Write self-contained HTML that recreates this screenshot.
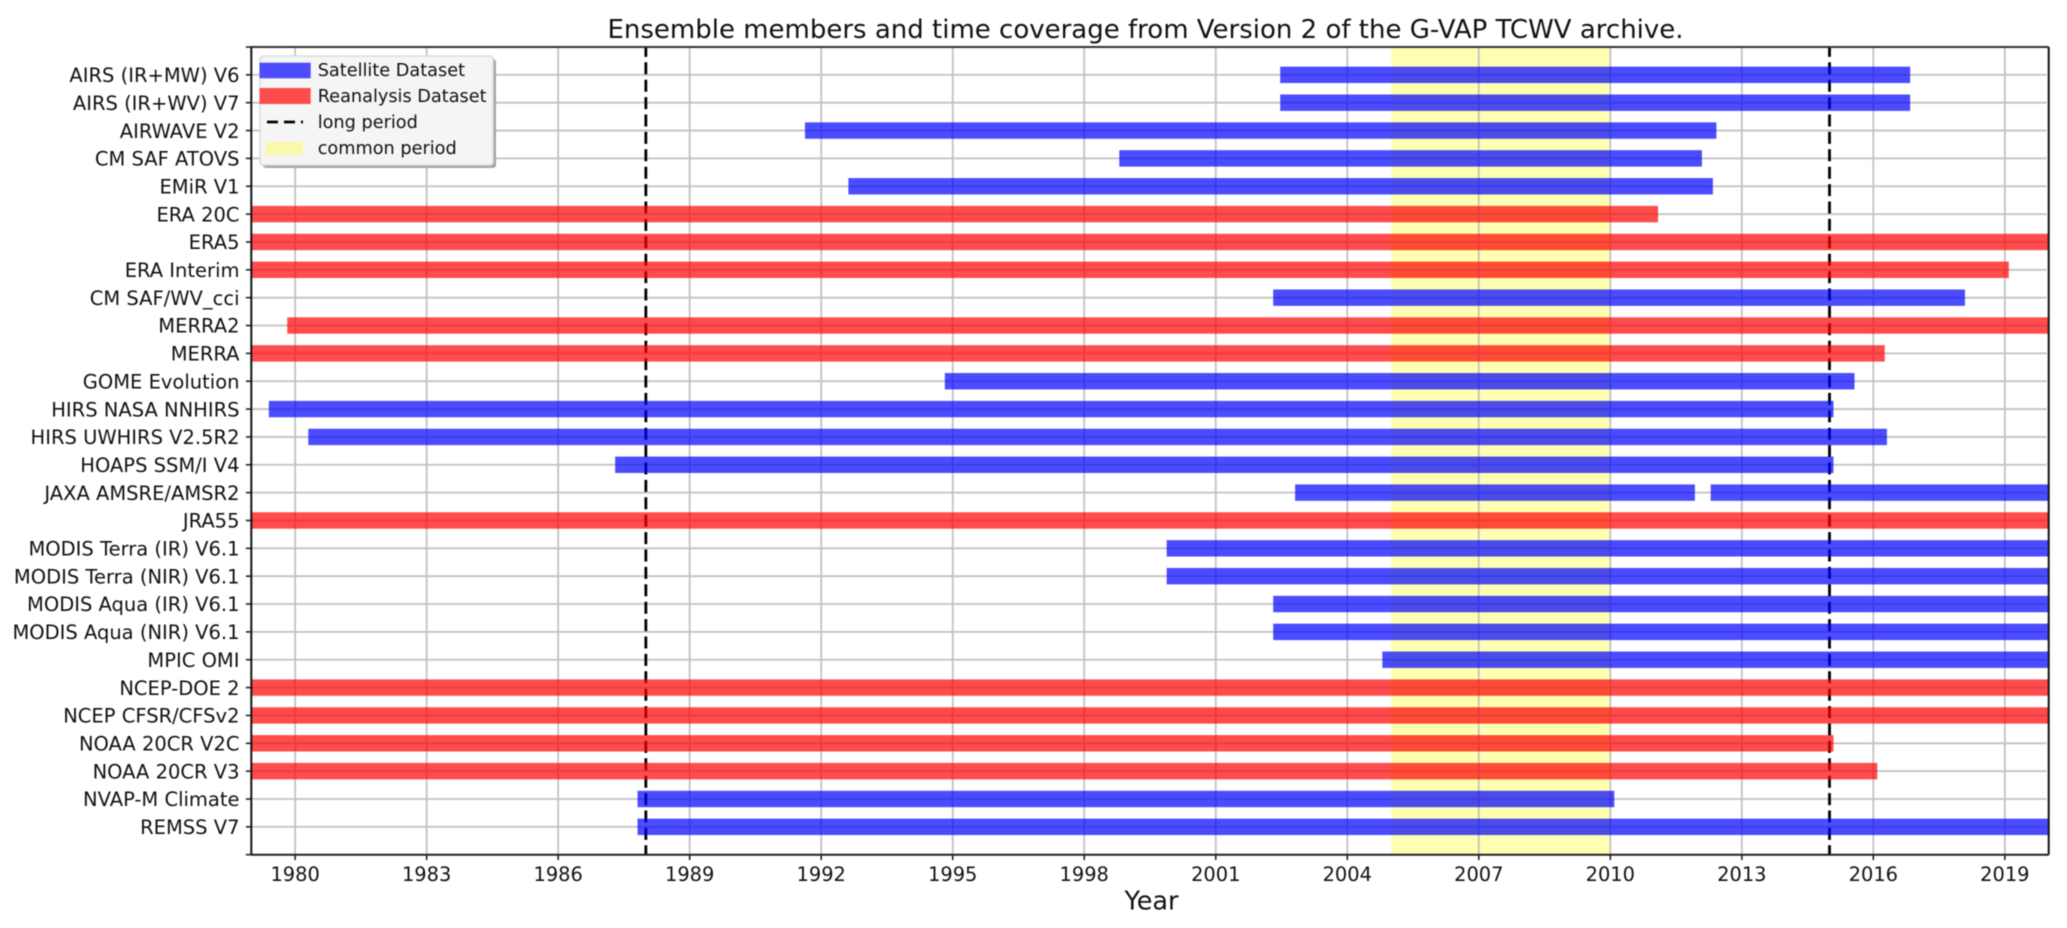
<!DOCTYPE html>
<html lang="en">
<head>
<meta charset="utf-8">
<title>G-VAP TCWV ensemble coverage</title>
<style>
html,body{margin:0;padding:0;background:#fff;width:2067px;height:928px;overflow:hidden}
svg{display:block;filter:blur(0.4px)}
text{font-family:"DejaVu Sans","Liberation Sans",sans-serif;fill:#111}
</style>
</head>
<body>
<svg id="chart" xmlns="http://www.w3.org/2000/svg" width="2067" height="928" viewBox="0 0 2067 928">
  <defs><clipPath id="plot-clip"><rect x="251.3" y="47" width="1797.4" height="807.7"/></clipPath></defs>
  <rect x="0" y="0" width="2067" height="928" fill="#fff"/>
  <g id="spans" clip-path="url(#plot-clip)"></g>
  <g id="grid"></g>
  <g id="vlines"></g>
  <g id="bars" clip-path="url(#plot-clip)"></g>
  <g id="axes"></g>
  <text x="1145.5" y="38" text-anchor="middle" font-size="26">Ensemble members and time coverage from Version 2 of the G-VAP TCWV archive.</text>
  <text x="1151.5" y="909.3" text-anchor="middle" font-size="25.5">Year</text>
  <g>
    <rect x="263" y="59" width="233" height="109" rx="3" fill="#a6a6a6"/>
    <rect x="260" y="56" width="233" height="109" rx="3" fill="#f5f5f5" stroke="#dcdcdc" stroke-width="1.5"/>
    <rect x="259.5" y="62.7" width="51.2" height="15.6" fill="#4d4dff"/>
    <rect x="259.5" y="88" width="51.2" height="16" fill="#ff4d4d"/>
    <line x1="267" y1="122" x2="303" y2="122" stroke="#000" stroke-width="2.7" stroke-dasharray="11 6"/>
    <rect x="266" y="141.7" width="37" height="13.5" fill="#fbf8ac"/>
    <text x="317.7" y="76" font-size="17.7">Satellite Dataset</text>
    <text x="317.7" y="102" font-size="17.7">Reanalysis Dataset</text>
    <text x="317.7" y="128" font-size="17.7">long period</text>
    <text x="317.7" y="154" font-size="17.7">common period</text>
  </g>
</svg>
<script>
const categories = ["AIRS (IR+MW) V6","AIRS (IR+WV) V7","AIRWAVE V2","CM SAF ATOVS","EMiR V1","ERA 20C","ERA5","ERA Interim","CM SAF/WV_cci","MERRA2","MERRA","GOME Evolution","HIRS NASA NNHIRS","HIRS UWHIRS V2.5R2","HOAPS SSM/I V4","JAXA AMSRE/AMSR2","JRA55","MODIS Terra (IR) V6.1","MODIS Terra (NIR) V6.1","MODIS Aqua (IR) V6.1","MODIS Aqua (NIR) V6.1","MPIC OMI","NCEP-DOE 2","NCEP CFSR/CFSv2","NOAA 20CR V2C","NOAA 20CR V3","NVAP-M Climate","REMSS V7"];
const barCategories = ["AIRS (IR+MW) V6","AIRS (IR+WV) V7","AIRWAVE V2","CM SAF ATOVS","EMiR V1","ERA 20C","ERA5","ERA Interim","CM SAF/WV_cci","MERRA2","MERRA","GOME Evolution","HIRS NASA NNHIRS","HIRS UWHIRS V2.5R2","HOAPS SSM/I V4","JAXA AMSRE/AMSR2","JAXA AMSRE/AMSR2","JRA55","MODIS Terra (IR) V6.1","MODIS Terra (NIR) V6.1","MODIS Aqua (IR) V6.1","MODIS Aqua (NIR) V6.1","MPIC OMI","NCEP-DOE 2","NCEP CFSR/CFSv2","NOAA 20CR V2C","NOAA 20CR V3","NVAP-M Climate","REMSS V7"];
const barKinds = ["satellite","satellite","satellite","satellite","satellite","reanalysis","reanalysis","reanalysis","satellite","reanalysis","reanalysis","satellite","satellite","satellite","satellite","satellite","satellite","reanalysis","satellite","satellite","satellite","satellite","satellite","reanalysis","reanalysis","reanalysis","reanalysis","satellite","satellite"];
const startYears = [2002.47,2002.47,1991.63,1998.8,1992.62,1979,1979,1979,2002.31,1979.82,1979,1994.82,1979.4,1980.3,1987.3,2002.81,2012.29,1979,1999.88,1999.88,2002.31,2002.31,2004.8,1979,1979,1979,1979,1987.81,1987.81];
const endYears = [2016.84,2016.84,2012.42,2012.09,2012.34,2011.09,2020,2019.09,2018.09,2020,2016.26,2015.57,2015.09,2016.31,2015.09,2011.93,2020,2020,2020,2020,2020,2020,2020,2020,2020,2015.09,2016.09,2010.09,2020];
const xTickYears = [1980,1983,1986,1989,1992,1995,1998,2001,2004,2007,2010,2013,2016,2019];
const longPeriodYears = [1988,2015];
const commonPeriodYears = [2005,2010];
const xDomain = [1979,2020];
const yDomain = [-1,28];

const plotLeft = 251.3, plotRight = 2048.7, plotTop = 47, plotBottom = 854.7;
const svgNS = "http://www.w3.org/2000/svg";
function xScale(year){ return plotLeft + (year - xDomain[0]) / (xDomain[1] - xDomain[0]) * (plotRight - plotLeft); }
function yScale(rowIndex){ return plotTop + (rowIndex - yDomain[0]) / (yDomain[1] - yDomain[0]) * (plotBottom - plotTop); }
function make(tag, attrs, parent){
  const el = document.createElementNS(svgNS, tag);
  for (const k in attrs) el.setAttribute(k, attrs[k]);
  document.getElementById(parent).appendChild(el);
  return el;
}

const span = make("rect", {x:xScale(commonPeriodYears[0]), y:plotTop, width:xScale(commonPeriodYears[1])-xScale(commonPeriodYears[0]), height:plotBottom-plotTop, fill:"#ffffb2"}, "spans");



xTickYears.forEach(function(year){
  const gridLine = make("line", {x1:xScale(year), x2:xScale(year), y1:plotTop, y2:plotBottom, stroke:"#c2c2c2", "stroke-width":1.8}, "grid");
  
  
  const tick = make("line", {x1:xScale(year), x2:xScale(year), y1:plotBottom, y2:plotBottom+5.4, stroke:"#222", "stroke-width":1.6}, "axes");
  
  
  const label = make("text", {x:xScale(year), y:881, "text-anchor":"middle", "font-size":19.4}, "axes");
  label.textContent = year;
  
  
});

categories.forEach(function(name, i){
  const gridLine = make("line", {x1:plotLeft, x2:plotRight-2.2, y1:yScale(i), y2:yScale(i), stroke:"#c2c2c2", "stroke-width":1.8}, "grid");
  
  
  const tick = make("line", {x1:plotLeft-5.4, x2:plotLeft, y1:yScale(i), y2:yScale(i), stroke:"#222", "stroke-width":1.6}, "axes");
  
  
  const label = make("text", {x:239.5, y:yScale(i)+7.2, "text-anchor":"end", "font-size":19.5}, "axes");
  label.textContent = name;
  
  
});

yDomain.forEach(function(value){
  const tick = make("line", {x1:plotLeft-5.4, x2:plotLeft, y1:yScale(value), y2:yScale(value), stroke:"#222", "stroke-width":1.6}, "axes");
  
  
});

longPeriodYears.forEach(function(year){
  const vline = make("line", {x1:xScale(year), x2:xScale(year), y1:plotBottom, y2:plotTop, stroke:"#000", "stroke-width":2.8, "stroke-dasharray":"12 5.4", "stroke-dashoffset":2.6}, "vlines");
  
  
});

barCategories.forEach(function(name, i){
  const row = categories.indexOf(name);
  const bar = make("rect", {x:xScale(startYears[i]), y:yScale(row)-8.2, width:xScale(endYears[i])-xScale(startYears[i]), height:16.4, fill: barKinds[i] === "satellite" ? "rgba(0,0,255,0.7)" : "rgba(255,0,0,0.7)"}, "bars");
  
  
});

const frame = [
  [plotLeft, plotTop, plotRight, plotTop, "#333", 2],
  [plotLeft, plotBottom, plotRight, plotBottom, "#222", 2],
  [plotLeft, plotTop, plotLeft, plotBottom, "#111", 2],
  [plotRight, plotTop, plotRight, plotBottom, "#111", 2]
];
frame.forEach(function(s){
  const spine = make("line", {x1:s[0], y1:s[1], x2:s[2], y2:s[3], stroke:s[4], "stroke-width":s[5]}, "axes");
  
  
});
</script>
</body>
</html>
